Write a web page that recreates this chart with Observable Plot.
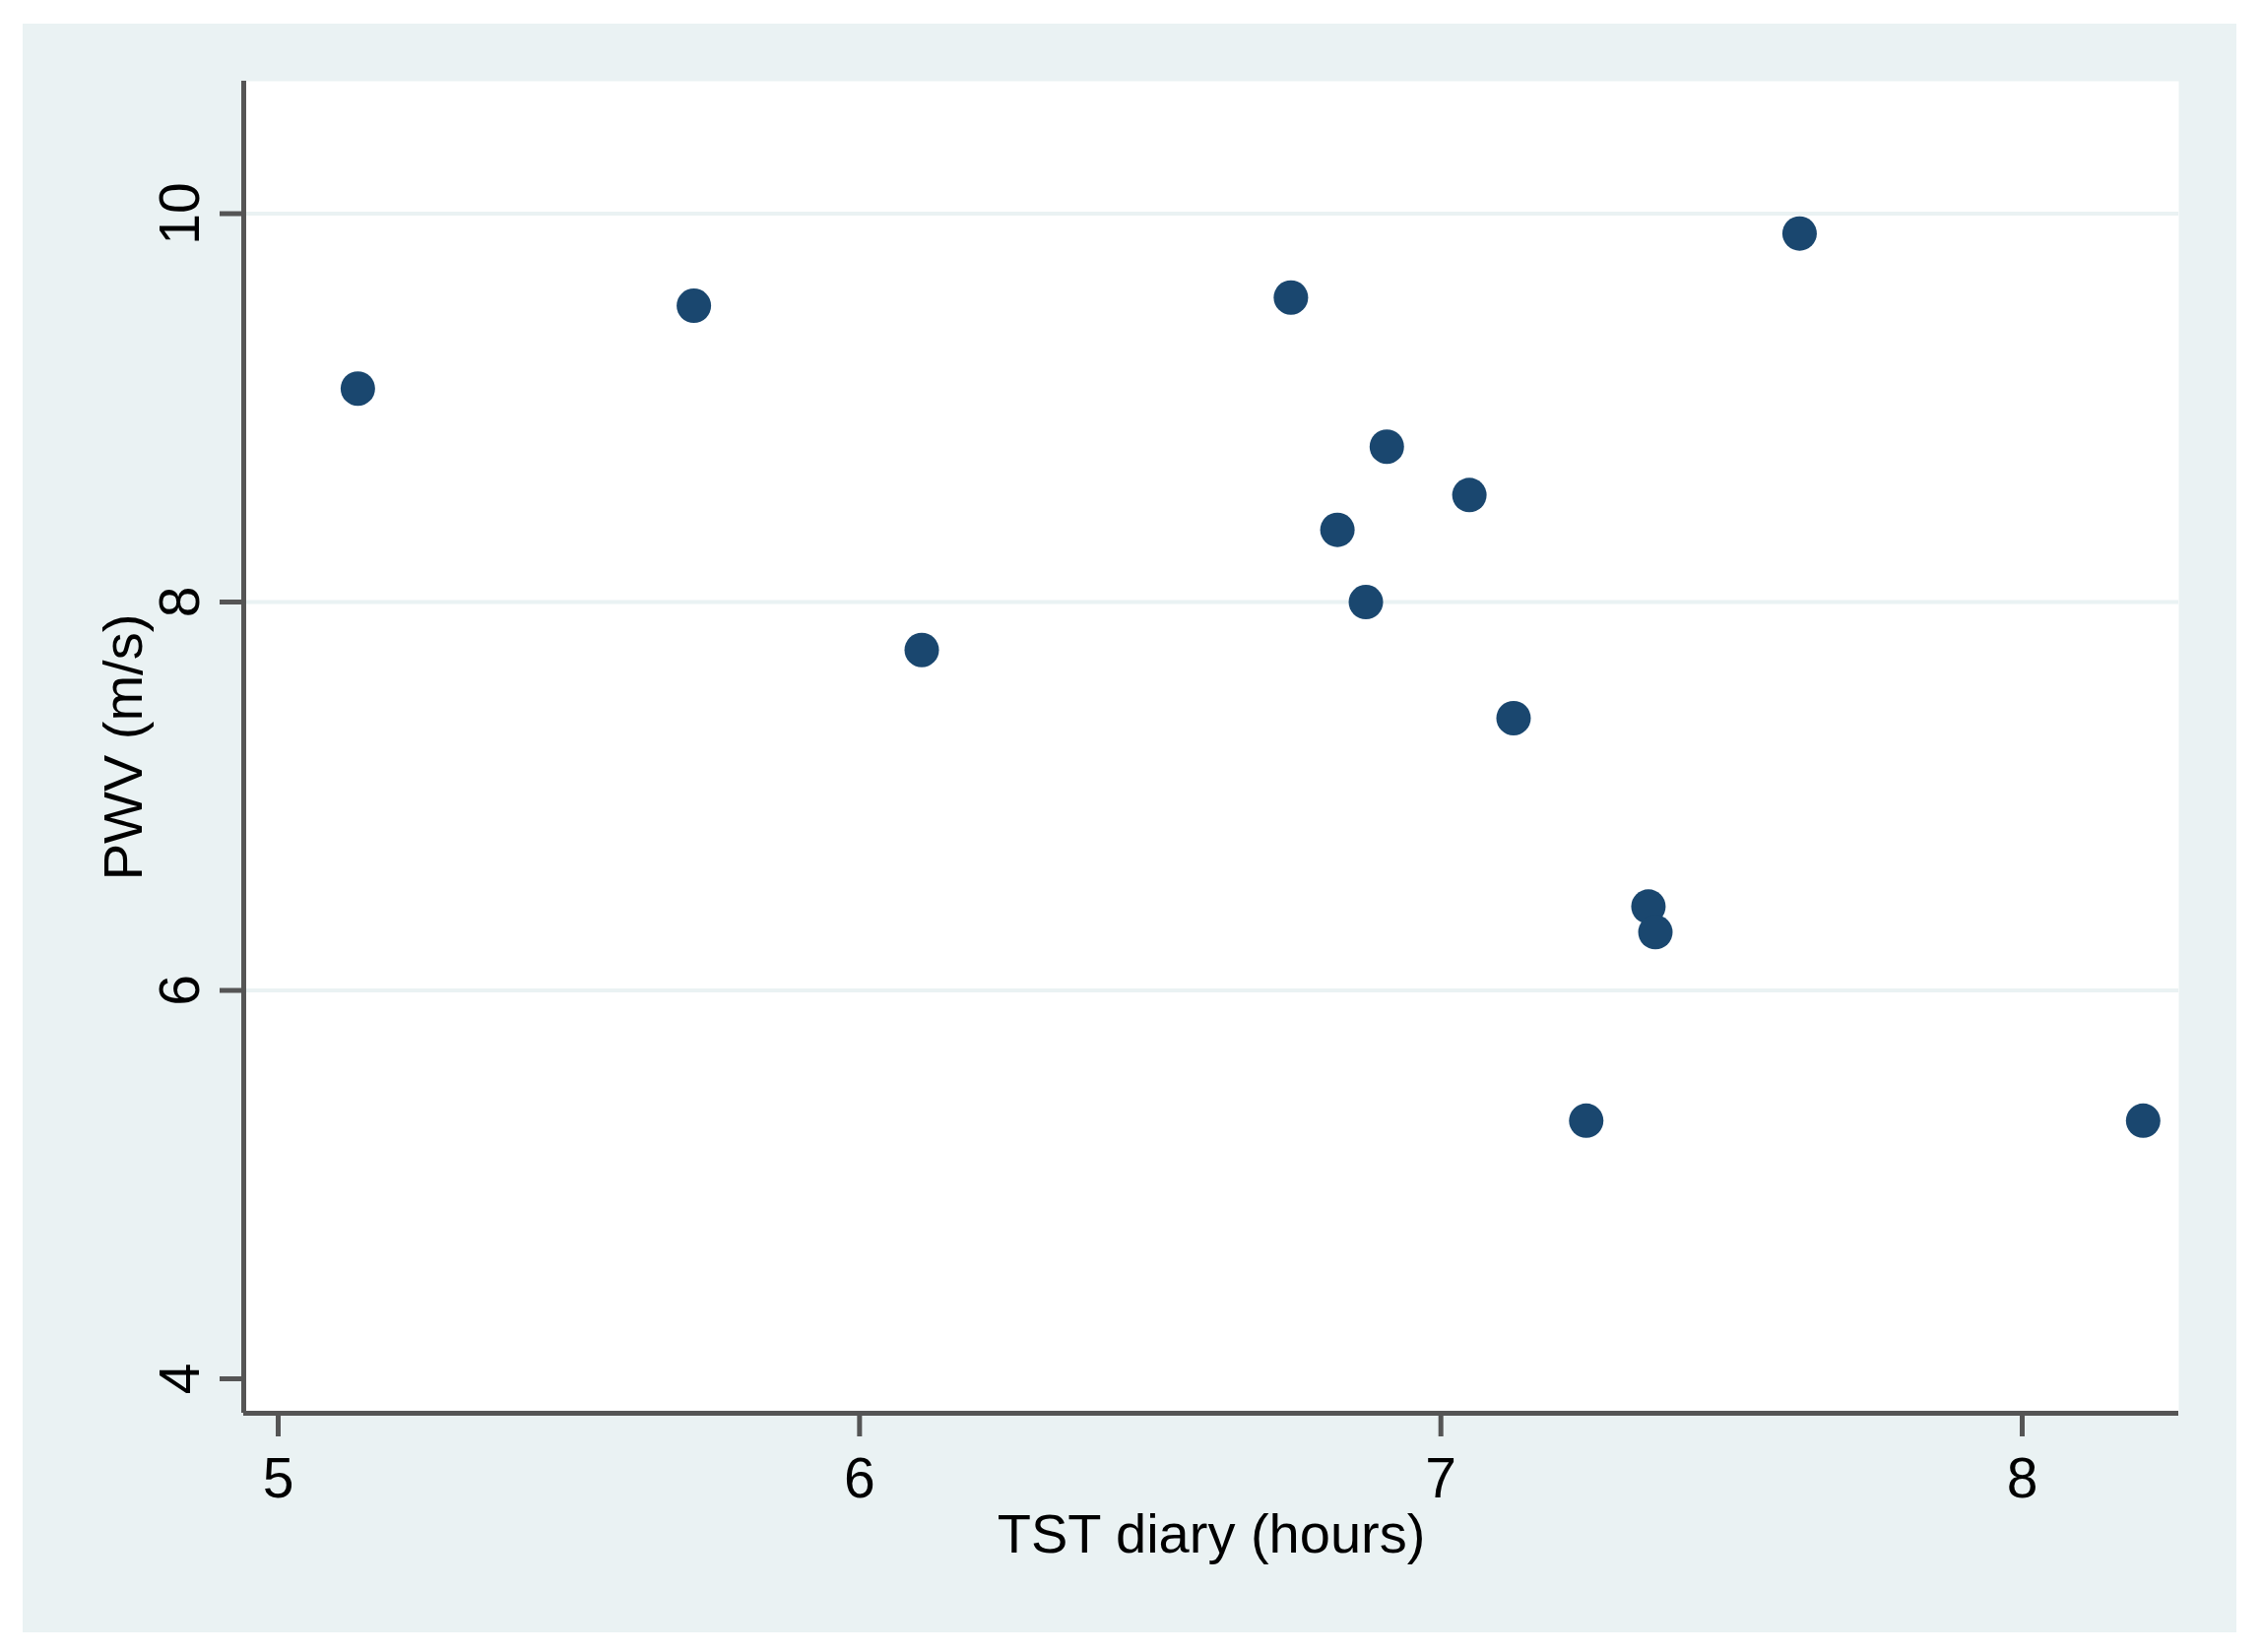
<!DOCTYPE html>
<html>
<head>
<meta charset="utf-8">
<script src="https://cdn.jsdelivr.net/npm/d3@7"></script>
<script src="https://cdn.jsdelivr.net/npm/@observablehq/plot@0.6"></script>
<style>
  html, body { margin: 0; padding: 0; background: #ffffff; }
  #wrap { position: relative; width: 2297px; height: 1678px; }
  #bg { position: absolute; left: 23px; top: 24px; width: 2248px; height: 1634px; background: #eaf2f3; }
  #chart { position: absolute; left: 0; top: 0; }
</style>
</head>
<body>
<div id="wrap"><div id="bg"></div><div id="chart"></div></div>
<script>
// Data
const tstDiary = [5.137, 5.715, 6.107, 6.742, 6.907, 7.049, 6.822, 6.871, 7.125, 7.617, 7.357, 7.369, 7.250, 8.208];
const pwv      = [9.099, 9.526, 7.753, 9.568, 8.800, 8.551, 8.372, 8.000, 7.402, 9.898, 6.432, 6.300, 5.329, 5.329];

const xTicks = [5, 6, 7, 8];
const yTicks = [4, 6, 8, 10];
const yGrid  = [6, 8, 10];
const xDomain = [4.9407, 8.2693];
const yDomain = [3.8226, 10.682];

const xTitle = "TST diary (hours)";
const yTitle = "PWV (m/s)";

const data = tstDiary.map((x, i) => ({x, y: pwv[i]}));

const axisColor = "#555555";
const font = "'Liberation Sans', Arial, sans-serif";

const chart = Plot.plot({
  width: 2297,
  height: 1678,
  marginTop: 82,
  marginRight: 85,
  marginBottom: 243,
  marginLeft: 247,
  style: { background: "transparent", fontFamily: font, color: "#000" },
  x: { domain: xDomain, axis: null },
  y: { domain: yDomain, axis: null },
  marks: [
    Plot.frame({ fill: "#ffffff", stroke: "none" }),
    Plot.gridY(yGrid, { stroke: "#eaf2f3", strokeOpacity: 1, strokeWidth: 4 }),
    Plot.axisX({ ticks: xTicks, tickSize: 24, tickPadding: 21, tickFormat: d => String(d), stroke: axisColor, strokeWidth: 5, fontSize: 57, fill: "#000", label: null }),
    Plot.axisY({ ticks: yTicks, tickSize: 24, stroke: axisColor, strokeWidth: 5, tickFormat: () => "", label: null }),
    Plot.text(yTicks, { y: d => d, text: d => String(d), frameAnchor: "left", dx: -64, rotate: -90, fontSize: 57, fill: "#000", lineAnchor: "middle", textAnchor: "middle" }),
    Plot.ruleX([xDomain[0]], { stroke: axisColor, strokeWidth: 5 }),
    Plot.ruleY([yDomain[0]], { stroke: axisColor, strokeWidth: 5 }),
    Plot.text([xTitle], { text: d => d, frameAnchor: "bottom", dy: 102, lineAnchor: "top", textAnchor: "middle", fontSize: 56, fill: "#000" }),
    Plot.text([yTitle], { text: d => d, frameAnchor: "left", dx: -121, rotate: -90, lineAnchor: "middle", textAnchor: "middle", fontSize: 56, fill: "#000" }),
    Plot.dot(data, { x: "x", y: "y", r: 17.5, fill: "#1a476f", stroke: "none" })
  ]
});
document.getElementById("chart").appendChild(chart);
</script>
</body>
</html>
